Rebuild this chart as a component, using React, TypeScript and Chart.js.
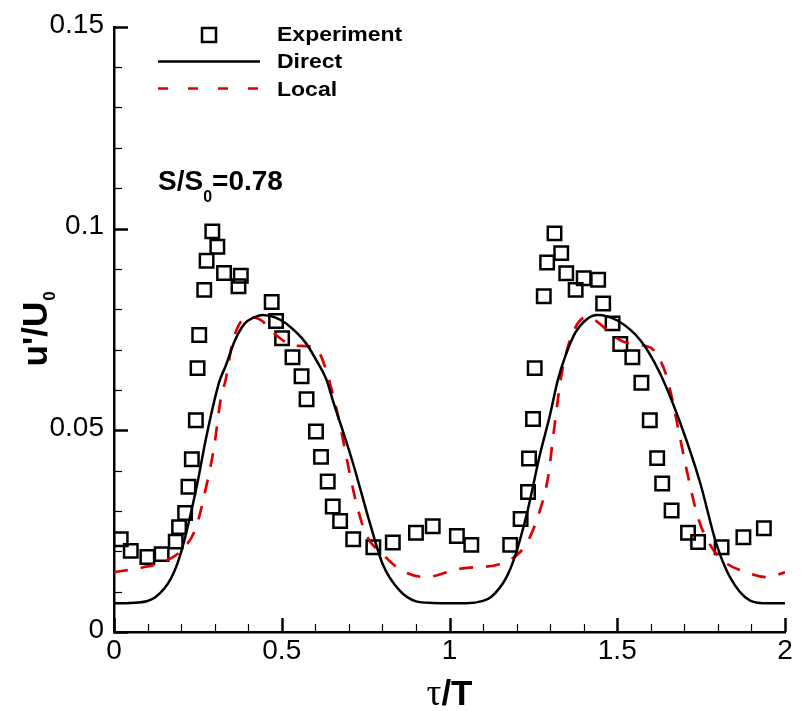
import { useEffect, useRef } from 'react';
import { Chart, registerables } from 'chart.js';

Chart.register(...registerables);

// ---------- data ----------
const directX = [0, 0.05, 0.1, 0.124, 0.15, 0.17, 0.19, 0.21, 0.23, 0.25, 0.274, 0.313, 0.333, 0.36, 0.39, 0.415, 0.443, 0.48, 0.512, 0.572, 0.602, 0.632, 0.652, 0.711, 0.761, 0.801, 0.851, 0.9, 0.95, 1.0, 1.05, 1.1, 1.124, 1.15, 1.17, 1.19, 1.21, 1.234, 1.269, 1.299, 1.323, 1.345, 1.375, 1.41, 1.44, 1.5, 1.57, 1.627, 1.687, 1.746, 1.796, 1.836, 1.896, 1.95, 2.0];
const directY = [0.0071, 0.0072, 0.0077, 0.0087, 0.0108, 0.0133, 0.0172, 0.0228, 0.0298, 0.0375, 0.0479, 0.0618, 0.066, 0.0722, 0.0765, 0.0779, 0.0786, 0.078, 0.0765, 0.0716, 0.0675, 0.0628, 0.0575, 0.0422, 0.0275, 0.0168, 0.0103, 0.0076, 0.0072, 0.0071, 0.0071, 0.0077, 0.0087, 0.011, 0.0136, 0.0175, 0.0228, 0.0305, 0.0438, 0.0536, 0.0625, 0.0683, 0.0742, 0.0776, 0.0786, 0.0772, 0.0722, 0.0642, 0.052, 0.0373, 0.0217, 0.0136, 0.0078, 0.0071, 0.0071];

const localX = [0, 0.085, 0.154, 0.204, 0.244, 0.274, 0.299, 0.318, 0.333, 0.353, 0.383, 0.413, 0.44, 0.47, 0.5, 0.53, 0.582, 0.61, 0.632, 0.652, 0.672, 0.696, 0.721, 0.751, 0.801, 0.851, 0.93, 1.025, 1.07, 1.149, 1.209, 1.239, 1.269, 1.293, 1.313, 1.333, 1.363, 1.408, 1.43, 1.487, 1.517, 1.587, 1.607, 1.647, 1.682, 1.706, 1.741, 1.776, 1.816, 1.885, 1.945, 2.0];
const localY = [0.0148, 0.016, 0.0176, 0.0205, 0.0258, 0.0357, 0.0462, 0.0577, 0.0626, 0.0716, 0.0773, 0.078, 0.0772, 0.0745, 0.0725, 0.071, 0.0708, 0.0695, 0.065, 0.059, 0.052, 0.042, 0.0324, 0.0242, 0.0193, 0.0156, 0.0136, 0.0156, 0.016, 0.0168, 0.0197, 0.0234, 0.03, 0.038, 0.0511, 0.0634, 0.0732, 0.0781, 0.0775, 0.0736, 0.072, 0.0708, 0.07, 0.0634, 0.0503, 0.0405, 0.0283, 0.0217, 0.0176, 0.0148, 0.0136, 0.0148];

const expX = [0.02, 0.05, 0.0995, 0.142, 0.184, 0.194, 0.212, 0.222, 0.232, 0.244, 0.249, 0.254, 0.269, 0.276, 0.293, 0.308, 0.328, 0.371, 0.378, 0.47, 0.483, 0.501, 0.532, 0.559, 0.574, 0.602, 0.617, 0.637, 0.652, 0.674, 0.713, 0.773, 0.831, 0.9, 0.95, 1.022, 1.065, 1.181, 1.212, 1.234, 1.237, 1.249, 1.254, 1.281, 1.291, 1.313, 1.333, 1.348, 1.376, 1.4, 1.443, 1.458, 1.486, 1.509, 1.545, 1.572, 1.597, 1.619, 1.634, 1.662, 1.711, 1.741, 1.811, 1.876, 1.937];
const expY = [0.023, 0.0201, 0.0186, 0.0193, 0.0224, 0.026, 0.0295, 0.036, 0.0428, 0.0525, 0.0654, 0.0736, 0.0848, 0.092, 0.0993, 0.0955, 0.089, 0.0857, 0.0883, 0.0818, 0.0771, 0.0728, 0.0681, 0.0634, 0.0577, 0.0497, 0.0434, 0.0373, 0.0311, 0.0275, 0.023, 0.021, 0.0222, 0.0246, 0.0262, 0.0238, 0.0216, 0.0216, 0.028, 0.0347, 0.043, 0.0528, 0.0654, 0.0832, 0.0916, 0.0988, 0.0939, 0.0889, 0.0848, 0.0877, 0.0873, 0.0814, 0.0765, 0.0714, 0.0681, 0.0618, 0.0525, 0.0431, 0.0368, 0.0301, 0.0246, 0.0223, 0.021, 0.0235, 0.0257];

const seriesNames = ['Experiment', 'Direct', 'Local'];
const xTickValues = [0, 0.5, 1, 1.5, 2];
const yTickValues = [0, 0.05, 0.1, 0.15];
const annotationText = ['S/S', '0', '=0.78'];
const yTitleParts = ["u'/U", '0'];
const xTitleParts = ['τ', '/T'];

const SANS = "'Liberation Sans', Arial, Helvetica, sans-serif";
const RED = '#dd0000';

const toPts = (xs: number[], ys: number[]) => xs.map((x, i) => ({ x, y: ys[i] }));

const decorPlugin = {
  id: 'decor',
  afterDraw(chart: any) {
    const { ctx, chartArea, scales } = chart;
    const { left, right, top, bottom } = chartArea;
    const xs = scales.x;
    const ys = scales.y;
    ctx.save();
    ctx.strokeStyle = '#000';
    ctx.lineCap = 'butt';
    // inward ticks x
    for (let i = 0; i <= 20; i++) {
      const v = i * 0.1;
      const major = i % 5 === 0;
      const px = Math.round(xs.getPixelForValue(v)) + 0.5;
      ctx.lineWidth = major ? 2.5 : 1.2;
      ctx.beginPath();
      ctx.moveTo(px, bottom);
      ctx.lineTo(px, bottom - (major ? 14 : 8));
      ctx.stroke();
    }
    // inward ticks y
    for (let i = 0; i <= 15; i++) {
      const v = i * 0.01;
      const major = i % 5 === 0;
      const py = Math.round(ys.getPixelForValue(v)) + 0.5;
      ctx.lineWidth = major ? 2.5 : 1.2;
      ctx.beginPath();
      ctx.moveTo(left, py);
      ctx.lineTo(left + (major ? 14 : 8), py);
      ctx.stroke();
    }

    ctx.fillStyle = '#000';
    // y title (rotated) with subscript
    ctx.save();
    ctx.font = `bold 35px ${SANS}`;
    const w1 = ctx.measureText(yTitleParts[0]).width;
    ctx.font = `bold 17px ${SANS}`;
    const w2 = ctx.measureText(yTitleParts[1]).width;
    const cy = (top + bottom) / 2;
    ctx.translate(47, cy);
    ctx.rotate(-Math.PI / 2);
    ctx.textBaseline = 'alphabetic';
    ctx.textAlign = 'left';
    const sx = -(w1 + w2) / 2;
    ctx.font = `bold 35px ${SANS}`;
    ctx.fillText(yTitleParts[0], sx, 0);
    ctx.font = `bold 17px ${SANS}`;
    ctx.fillText(yTitleParts[1], sx + w1 + 1, 8);
    ctx.restore();

    // x title
    ctx.save();
    ctx.textBaseline = 'alphabetic';
    ctx.textAlign = 'left';
    ctx.font = `37px 'Liberation Serif', 'DejaVu Serif', serif`;
    const tw = ctx.measureText(xTitleParts[0]).width;
    ctx.font = `bold 35px ${SANS}`;
    const sw = ctx.measureText(xTitleParts[1]).width;
    const cx = (left + right) / 2;
    const x0 = cx - (tw + sw) / 2;
    ctx.font = `37px 'Liberation Serif', 'DejaVu Serif', serif`;
    ctx.fillText(xTitleParts[0], x0, 705);
    ctx.font = `bold 35px ${SANS}`;
    ctx.fillText(xTitleParts[1], x0 + tw, 705);
    ctx.restore();

    // annotation S/S0=0.78
    ctx.save();
    ctx.textBaseline = 'alphabetic';
    ctx.textAlign = 'left';
    let ax = 158;
    ctx.font = `bold 28px ${SANS}`;
    ctx.fillText(annotationText[0], ax, 190);
    ax += ctx.measureText(annotationText[0]).width;
    ctx.font = `bold 16px ${SANS}`;
    ctx.fillText(annotationText[1], ax, 202);
    ax += ctx.measureText(annotationText[1]).width;
    ctx.font = `bold 28px ${SANS}`;
    ctx.fillText(annotationText[2], ax, 190);
    ctx.restore();

    // legend
    ctx.save();
    ctx.strokeStyle = '#000';
    ctx.lineWidth = 2.5;
    ctx.beginPath();
    ctx.rect(202, 28, 14, 14);
    ctx.stroke();
    ctx.beginPath();
    ctx.moveTo(158, 61.5);
    ctx.lineTo(260, 61.5);
    ctx.stroke();
    ctx.strokeStyle = RED;
    ctx.setLineDash([10, 20]);
    ctx.beginPath();
    ctx.moveTo(158, 88.5);
    ctx.lineTo(260, 88.5);
    ctx.stroke();
    ctx.setLineDash([]);
    ctx.fillStyle = '#000';
    ctx.font = `bold 20px ${SANS}`;
    ctx.textBaseline = 'alphabetic';
    const baselines = [41, 68, 95.5];
    seriesNames.forEach((n, i) => {
      ctx.save();
      ctx.translate(277, baselines[i]);
      ctx.scale(1.15, 1);
      ctx.fillText(n, 0, 0);
      ctx.restore();
    });
    ctx.restore();

    ctx.restore();
  },
};

export default function App() {
  const ref = useRef<HTMLCanvasElement | null>(null);
  useEffect(() => {
    if (!ref.current) return;
    const fmt = (v: any) => String(Math.round(Number(v) * 100) / 100);
    const chart = new Chart(ref.current, {
      type: 'scatter',
      data: {
        datasets: [
          {
            label: seriesNames[1],
            data: toPts(directX, directY),
            showLine: true,
            borderColor: '#000',
            borderWidth: 2.5,
            pointRadius: 0,
            cubicInterpolationMode: 'monotone',
            fill: false,
          },
          {
            label: seriesNames[2],
            data: toPts(localX, localY),
            showLine: true,
            borderColor: RED,
            borderWidth: 2.7,
            borderDash: [14, 13],
            pointRadius: 0,
            cubicInterpolationMode: 'monotone',
            fill: false,
          },
          {
            label: seriesNames[0],
            data: toPts(expX, expY),
            showLine: false,
            pointStyle: 'rect',
            pointRadius: 9.5,
            pointBorderWidth: 2.5,
            pointBorderColor: '#000',
            pointBackgroundColor: 'rgba(0,0,0,0)',
            borderColor: '#000',
            backgroundColor: 'rgba(0,0,0,0)',
          },
        ],
      } as any,
      options: {
        responsive: false,
        animation: false,
        devicePixelRatio: 1,
        events: [],
        layout: { padding: { top: 20, right: 16, left: 0, bottom: 0 } },
        plugins: {
          legend: { display: false },
          tooltip: { enabled: false },
        },
        scales: {
          x: {
            type: 'linear',
            min: 0,
            max: 2,
            afterFit: (s: any) => {
              s.height = 79;
            },
            afterBuildTicks: (s: any) => {
              s.ticks = xTickValues.map((v) => ({ value: v }));
            },
            grid: { display: false, drawTicks: false },
            border: { display: true, color: '#000', width: 2.5 },
            ticks: {
              color: '#000',
              padding: 2,
              maxRotation: 0,
              autoSkip: false,
              font: { size: 28, family: SANS },
              callback: fmt,
            },
          },
          y: {
            type: 'linear',
            min: 0,
            max: 0.15,
            afterFit: (s: any) => {
              s.width = 114;
            },
            afterBuildTicks: (s: any) => {
              s.ticks = yTickValues.map((v) => ({ value: v }));
            },
            grid: { display: false, drawTicks: false },
            border: { display: true, color: '#000', width: 2.5 },
            ticks: {
              color: '#000',
              padding: 10,
              labelOffset: -2,
              autoSkip: false,
              font: { size: 28, family: SANS },
              callback: fmt,
            },
          },
        },
      } as any,
      plugins: [decorPlugin],
    });
    return () => chart.destroy();
  }, []);

  return (
    <div style={{ position: 'fixed', left: 0, top: 0, width: 801, height: 711, background: '#fff' }}>
      <canvas ref={ref} width={801} height={711} style={{ width: 801, height: 711, display: 'block' }} />
    </div>
  );
}
